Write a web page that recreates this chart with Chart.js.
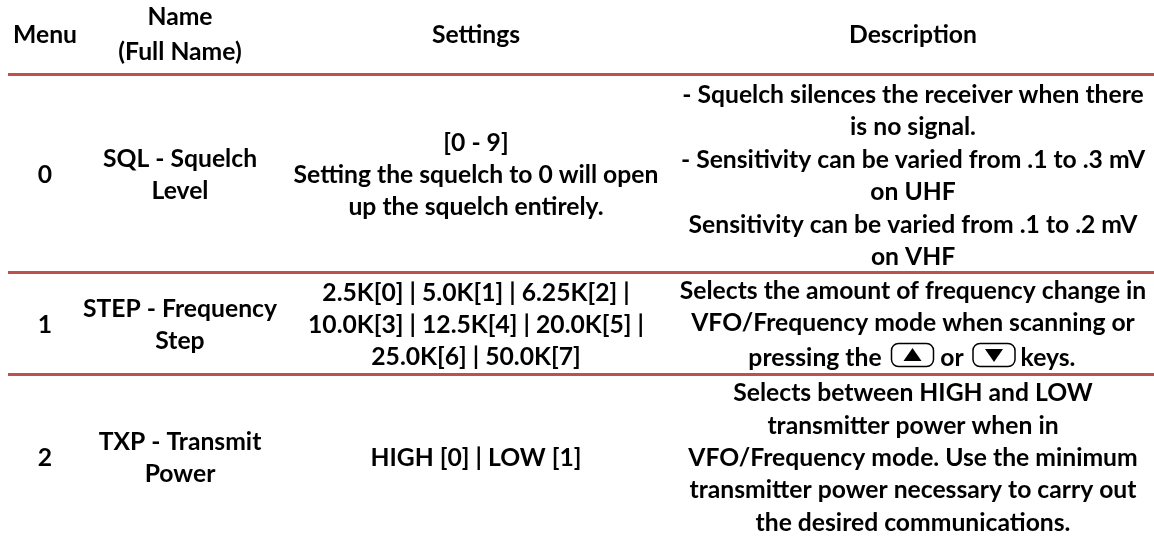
<!DOCTYPE html>
<html><head><meta charset="utf-8">
<style>html,body{margin:0;padding:0;background:#fff}#w{width:1154px;height:538px;position:relative}</style>
<script src="https://cdn.jsdelivr.net/npm/chart.js@4"></script>
</head><body><div id="w"><canvas id="c" width="1154" height="538"></canvas></div>
<script>
const columnHeads = ["Menu", "Name\n(Full Name)", "Settings", "Description"];
const menuCol = ["0", "1", "2"];
const nameCol = ["SQL - Squelch\nLevel", "STEP - Frequency\nStep", "TXP - Transmit\nPower"];
const settingsCol = ["[0 - 9]\nSetting the squelch to 0 will open\nup the squelch entirely.",
 "2.5K[0] | 5.0K[1] | 6.25K[2] |\n10.0K[3] | 12.5K[4] | 20.0K[5] |\n25.0K[6] | 50.0K[7]",
 "HIGH [0] | LOW [1]"];
const descCol = ["- Squelch silences the receiver when there\nis no signal.\n- Sensitivity can be varied from .1 to .3 mV\non UHF\nSensitivity can be varied from .1 to .2 mV\non VHF",
 "Selects the amount of frequency change in\nVFO/Frequency mode when scanning or",
 "Selects between HIGH and LOW\ntransmitter power when in\nVFO/Frequency mode. Use the minimum\ntransmitter power necessary to carry out\nthe desired communications."];
const keyLineWords = ["pressing the", "or", "keys."];
const keyLineWordCentres = [815, 952, 1048];
const colCentres = [45, 180, 476, 913];
const rowCentres = [175, 325, 458];
const descCentres = [176, 307, 458];
const headCentre = 35;
const ruleRows = [74.5, 272.5, 374.5];
const ruleStart = [8]; const ruleEnd = [1154];
const keyCentres = [[912.5, 355], [994, 355]];
const keyDirs = [1, -1];
const keyLineY = [358];

const lines = ruleRows.map(y => ({type:'line', data:[{x:ruleStart[0],y},{x:ruleEnd[0],y}],
  borderColor:'#c0504d', borderWidth:3, pointRadius:0, fill:false}));

const textPlugin = {id:'tableText', afterDatasetsDraw(ch){
  const {ctx, scales:{x,y}} = ch;
  const put = (s, cx, cy, lh=32.4) => {
    const ls = s.split('\n');
    ls.forEach((t,i)=>ctx.fillText(t, x.getPixelForValue(cx), y.getPixelForValue(cy + (i-(ls.length-1)/2)*lh)));
  };
  ctx.save();
  ctx.fillStyle='#000'; ctx.textAlign='center'; ctx.textBaseline='middle';
  ctx.font='bold 24.7px Lato, sans-serif';
  columnHeads.forEach((h,i)=>put(h,colCentres[i],headCentre,35));
  rowCentres.forEach((rc,r)=>{
    put(menuCol[r],colCentres[0],rc);
    put(nameCol[r],colCentres[1],rc);
    put(settingsCol[r],colCentres[2],rc);
    put(descCol[r],colCentres[3],descCentres[r]);
  });
  keyLineWords.forEach((w,i)=>put(w,keyLineWordCentres[i],keyLineY[0]));
  keyCentres.forEach((k,i)=>{
    const px=x.getPixelForValue(k[0]), py=y.getPixelForValue(k[1]);
    ctx.beginPath(); ctx.roundRect(px-21,py-11.5,42,23,7);
    ctx.lineWidth=1.5; ctx.strokeStyle='#000'; ctx.stroke();
    ctx.beginPath(); const d=keyDirs[i];
    ctx.moveTo(px-9,py+d*6); ctx.lineTo(px+9,py+d*6); ctx.lineTo(px,py-d*7); ctx.closePath();
    ctx.fillStyle='#000'; ctx.fill();
  });
  ctx.restore();
}};

new Chart(document.getElementById('c'),{
  type:'line',
  data:{datasets:lines},
  plugins:[textPlugin],
  options:{responsive:false,animation:false,events:[],
    layout:{padding:0},
    plugins:{legend:{display:false},tooltip:{enabled:false}},
    scales:{
      x:{type:'linear',min:0,max:1154,display:false},
      y:{type:'linear',min:0,max:538,reverse:true,display:false}
    }}
});
</script></body></html>
